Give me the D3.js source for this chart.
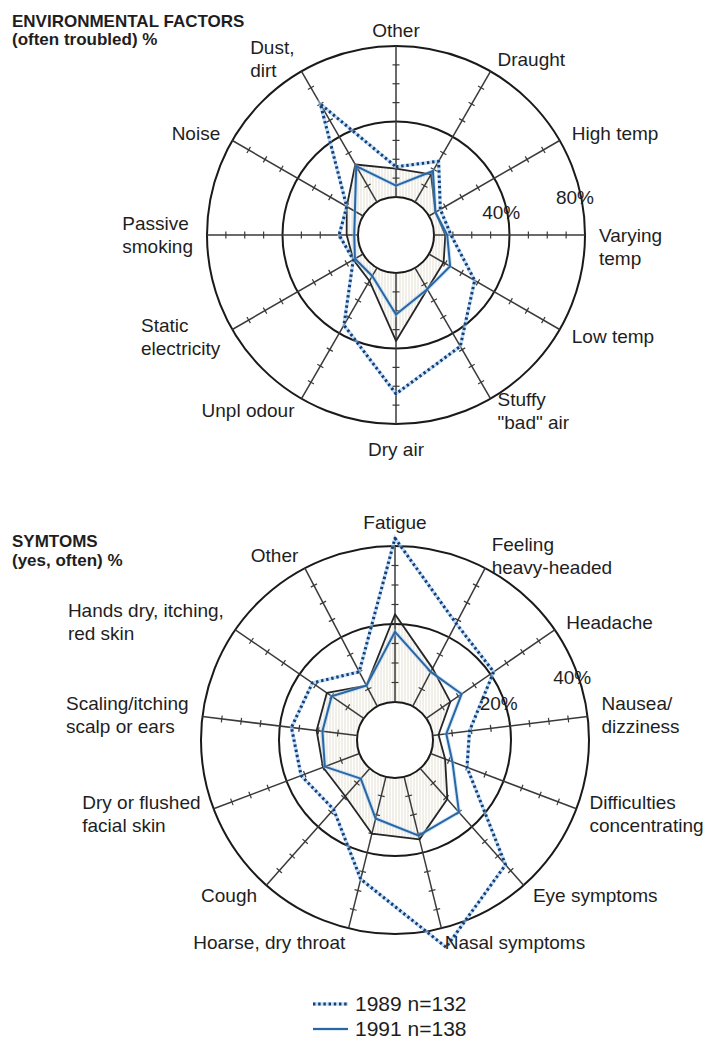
<!DOCTYPE html>
<html>
<head>
<meta charset="utf-8">
<script src="https://cdn.jsdelivr.net/npm/d3@7"></script>
<style>
  body { margin: 0; background: #fff; }
  text { font-family: "Liberation Sans", Arial, Helvetica, sans-serif; fill: #1e1e1e; }
</style>
</head>
<body>
<script>
// size of the page
var w = 708;
var h = 1043;

// environmental factors, clockwise from the top (% often troubled)
var envFactors = ["Other", "Draught", "High temp", "Varying\ntemp", "Low temp",
                  "Stuffy\n\"bad\" air", "Dry air", "Unpl odour", "Static\nelectricity",
                  "Passive\nsmoking", "Noise", "Dust,\ndirt"];
var env1989 = [16, 25, 7, 9, 28, 48, 64, 35, 6, 10, 10, 60];
var env1991 = [6, 19, 4, 7, 13, 13, 22, 5, 5, 2, 5, 22];
var envRef  = [15, 17, 4, 6, 9, 13, 36, 8, 6, 6, 10, 23];
var envRings = [40, 80];
var envTicks = [10, 20, 30, 50, 60, 70];

// symptoms, clockwise from the top (% yes, often)
var symptoms = ["Fatigue", "Feeling\nheavy-headed", "Headache", "Nausea/\ndizziness",
                "Difficulties\nconcentrating", "Eye symptoms", "Nasal symptoms",
                "Hoarse, dry throat", "Cough", "Dry or flushed\nfacial skin",
                "Scaling/itching\nscalp or ears", "Hands dry, itching,\nred skin", "Other"];
var sym1989 = [42, 24, 21, 9.5, 10, 33, 45, 27, 14, 16, 17, 16, 10];
var sym1991 = [18, 10, 11, 3.5, 6, 15, 15.5, 11, 3.5, 9.5, 9, 10, 6];
var symRef  = [22.5, 11, 7.5, 1.5, 4, 10.5, 16.5, 15, 9.5, 10, 10.5, 11.5, 6];
var symRings = [20, 40];
var symTicks = [5, 10, 15, 25, 30, 35];

var legendLabels = ["1989 n=132", "1991 n=138"];

// shared look
var rInner = 38;
var labelPad = 14;
var lineH = 23;
var dotBlue = "#163d7a";
var lineBlue = "#2a66a6";
var haloBlue = "#9ccbee";

var svg = d3.select("body")
            .append("svg")
            .attr("width", w)
            .attr("height", h);

svg.append("rect")
   .attr("width", w)
   .attr("height", h)
   .attr("fill", "#fff");

// faint vertical hatching used inside the reference polygon
svg.append("defs")
   .append("pattern")
   .attr("id", "hatch")
   .attr("patternUnits", "userSpaceOnUse")
   .attr("width", 3)
   .attr("height", 6)
   .append("line")
   .attr("x1", 1).attr("x2", 1)
   .attr("y1", 0).attr("y2", 6)
   .attr("stroke", "#e4dfd2")
   .attr("stroke-width", 1);

// draws the dotted 1989 style
function dotted(sel) {
  sel.attr("fill", "none")
     .attr("stroke", dotBlue)
     .attr("stroke-width", 3)
     .attr("stroke-dasharray", "2.4,2.8")
     .attr("stroke-linejoin", "round");
}

// draws one radar chart, group g sits at the centre of the circles
function drawRadar(g, cats, s89, s91, sRef, rings, ticks, rOuter, pctAngle) {
  var n = cats.length;
  var r = d3.scaleLinear()
            .domain([0, d3.max(rings)])
            .range([rInner, rOuter]);
  var angle = function(i) { return i * 2 * Math.PI / n; };

  var radar = d3.lineRadial()
                .angle(function(d, i) { return angle(i); })
                .radius(function(d) { return r(d); })
                .curve(d3.curveLinearClosed);

  // hatched area of the reference line
  g.append("path")
   .datum(sRef)
   .attr("d", radar)
   .attr("fill", "url(#hatch)");

  // empty middle
  g.append("circle")
   .attr("r", rInner)
   .attr("fill", "#fff")
   .attr("stroke", "#1a1a1a")
   .attr("stroke-width", 2);

  // rings
  g.selectAll(".ring")
   .data(rings)
   .enter().append("circle")
   .attr("class", "ring")
   .attr("r", function(d) { return r(d); })
   .attr("fill", "none")
   .attr("stroke", "#1a1a1a")
   .attr("stroke-width", 2);

  // spokes with little ticks
  var spokes = g.selectAll(".spoke")
                .data(cats)
                .enter().append("g")
                .attr("class", "spoke")
                .attr("transform", function(d, i) { return "rotate(" + angle(i) * 180 / Math.PI + ")"; });

  spokes.append("line")
        .attr("x1", 0).attr("x2", 0)
        .attr("y1", -rInner)
        .attr("y2", -rOuter)
        .attr("stroke", "#3a3a3a")
        .attr("stroke-width", 1.5);

  spokes.selectAll("line.tick")
        .data(ticks)
        .enter().append("line")
        .attr("class", "tick")
        .attr("x1", -3.5).attr("x2", 3.5)
        .attr("y1", function(d) { return -r(d); })
        .attr("y2", function(d) { return -r(d); })
        .attr("stroke", "#3a3a3a")
        .attr("stroke-width", 1.2);

  // reference line (black)
  g.append("path")
   .datum(sRef)
   .attr("d", radar)
   .attr("fill", "none")
   .attr("stroke", "#262626")
   .attr("stroke-width", 1.8)
   .attr("stroke-linejoin", "round");

  // 1991 solid blue
  g.append("path")
   .datum(s91)
   .attr("d", radar)
   .attr("fill", "none")
   .attr("stroke", haloBlue)
   .attr("stroke-opacity", 0.45)
   .attr("stroke-width", 4);

  g.append("path")
   .datum(s91)
   .attr("d", radar)
   .attr("fill", "none")
   .attr("stroke", lineBlue)
   .attr("stroke-width", 2)
   .attr("stroke-linejoin", "round");

  // 1989 dotted
  g.append("path")
   .datum(s89)
   .attr("d", radar)
   .attr("fill", "none")
   .attr("stroke", haloBlue)
   .attr("stroke-opacity", 0.6)
   .attr("stroke-width", 3.5);

  g.append("path")
   .datum(s89)
   .attr("d", radar)
   .call(dotted);

  // percentage labels on the rings
  var pa = pctAngle * Math.PI / 180;
  g.selectAll(".pct")
   .data(rings)
   .enter().append("text")
   .attr("class", "pct")
   .attr("x", function(d) { return Math.sin(pa) * (r(d) - 6); })
   .attr("y", function(d) { return -Math.cos(pa) * (r(d) - 6); })
   .attr("dy", "0.35em")
   .attr("text-anchor", "middle")
   .style("font-size", "19px")
   .text(function(d) { return d + "%"; });

  // category labels, placed just outside the outer ring
  g.selectAll(".cat")
   .data(cats)
   .enter().append("text")
   .attr("class", "cat")
   .style("font-size", "19px")
   .each(function(d, i) {
     var t = d3.select(this);
     var lines = d.split("\n");
     var spans = lines.map(function(l) { return t.append("tspan").text(l); });
     var wd = d3.max(spans, function(s) { return s.node().getComputedTextLength(); });
     var bh = lines.length * lineH;
     var s = Math.sin(angle(i));
     var c = Math.cos(angle(i));
     var px = s * (rOuter + labelPad);
     var py = -c * (rOuter + labelPad);
     var lx, top;
     if (Math.abs(s) < 0.1) {
       lx = px - wd / 2;
       if (c > 0) {
         // top label sits just clear of the ring or of a peak poking out
         top = -(Math.max(rOuter, r(s89[i]), r(s91[i])) + 4) - bh;
       } else {
         top = py;
       }
     } else {
       lx = s > 0 ? px : px - wd;
       // on the right, first line level with the spoke end
       top = lines.length > 1 && s > 0 && Math.abs(c) < 0.1 ? py - lineH / 2 : py - bh / 2;
     }
     spans.forEach(function(sp, j) {
       sp.attr("x", lx)
         .attr("y", top + lineH * (j + 0.5))
         .attr("dy", "0.35em");
     });
   });
}

// top chart
var gEnv = svg.append("g")
              .attr("transform", "translate(396,235)");
drawRadar(gEnv, envFactors, env1989, env1991, envRef, envRings, envTicks, 189, 78);

// bottom chart
var gSym = svg.append("g")
              .attr("transform", "translate(395,740)");
drawRadar(gSym, symptoms, sym1989, sym1991, symRef, symRings, symTicks, 194, 70.5);

// headings
var heads = [
  {y: 27, text: "ENVIRONMENTAL FACTORS"},
  {y: 45, text: "(often troubled) %"},
  {y: 547, text: "SYMTOMS"},
  {y: 566, text: "(yes, often) %"}
];
svg.selectAll(".head")
   .data(heads)
   .enter().append("text")
   .attr("class", "head")
   .attr("x", 12)
   .attr("y", function(d) { return d.y; })
   .style("font-size", "17px")
   .style("font-weight", "bold")
   .text(function(d) { return d.text; });

// legend
var legend = svg.selectAll(".legend")
                .data(legendLabels)
                .enter().append("g")
                .attr("class", "legend")
                .attr("transform", function(d, i) { return "translate(313," + (1004 + i * 25) + ")"; });

legend.append("line")
      .attr("x1", 0).attr("x2", 35)
      .attr("stroke", haloBlue)
      .attr("stroke-opacity", function(d, i) { return i == 0 ? 0.6 : 0.45; })
      .attr("stroke-width", 3.5);

legend.append("line")
      .attr("x1", 0).attr("x2", 35)
      .each(function(d, i) {
        if (i == 0) {
          d3.select(this).call(dotted);
        } else {
          d3.select(this).attr("stroke", lineBlue).attr("stroke-width", 2);
        }
      });

legend.append("text")
      .attr("x", 42)
      .attr("dy", "0.35em")
      .style("font-size", "21px")
      .text(function(d) { return d; });
</script>
</body>
</html>
